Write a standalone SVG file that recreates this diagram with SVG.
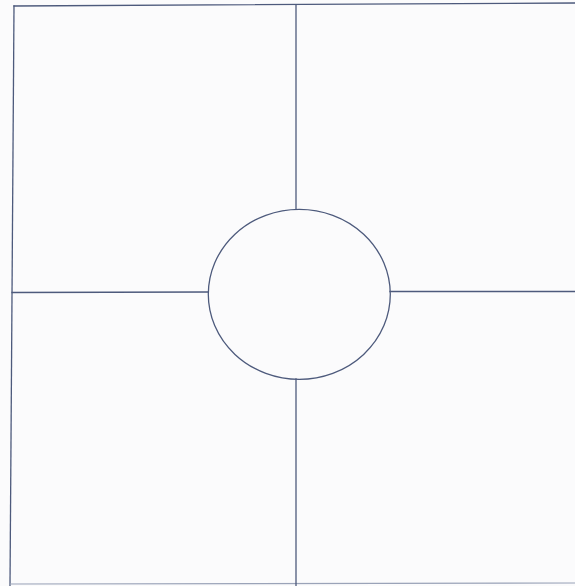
<svg xmlns="http://www.w3.org/2000/svg" width="575" height="586" viewBox="0 0 575 586">
  <style>
    .ln { stroke: #4d5a7c; stroke-width: 1.3; fill: none; stroke-linecap: square; }
    .faint { stroke: #9aa3b8; stroke-width: 1.2; fill: none; }
  </style>
  <rect x="0" y="0" width="575" height="586" fill="#fbfbfc"/>
  <g id="frame">
    <line class="ln" x1="14" y1="6" x2="575" y2="3"/>
    <line class="ln" x1="14" y1="6" x2="10" y2="586"/>
    <line class="faint" x1="10" y1="584" x2="575" y2="583"/>
  </g>
  <g id="connectors">
    <line class="ln" x1="296" y1="5" x2="296" y2="209"/>
    <line class="ln" x1="296" y1="379" x2="296" y2="586"/>
    <line class="ln" x1="12" y1="292.5" x2="208" y2="292"/>
    <line class="ln" x1="390" y1="291.5" x2="575" y2="291.5"/>
  </g>
  <g id="center">
    <ellipse class="ln" cx="299.3" cy="294.3" rx="91" ry="85"/>
  </g>
</svg>
